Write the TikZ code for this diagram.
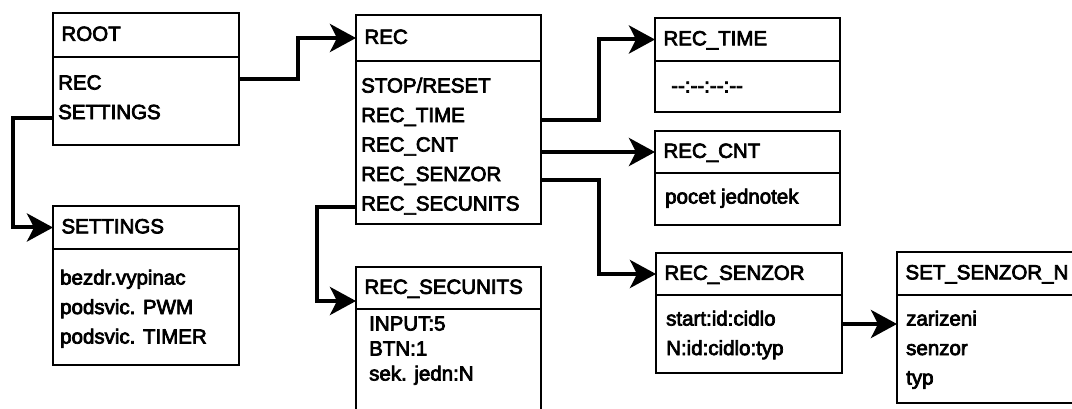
\documentclass[tikz,border=0pt]{standalone}
\usepackage{fontspec}
\setmainfont{Liberation Sans}
\newfontfamily\boxfont{Liberation Sans}[FakeBold=3.5]
\usetikzlibrary{arrows.meta,calc}

\tikzset{
  head/.style={draw, line width=2.7pt, anchor=north west, outer sep=0pt, inner xsep=8.5pt,
    minimum height=43pt, text width=#1, align=left, text height=14.7pt, text depth=3pt,
    font=\boxfont\fontsize{20.5}{24}\selectfont},
  body/.style={draw, line width=2.7pt, anchor=north west, outer sep=0pt, inner sep=0pt,
    minimum width=#1},
  items/.style={anchor=north west, inner sep=0pt, align=left,
    font=\boxfont\fontsize{20.5}{29.5}\selectfont},
  link/.style={line width=4pt, -{Stealth[length=26pt,width=28pt,inset=7pt]}},
}

\begin{document}
\begin{tikzpicture}[x=1pt,y=-1pt]
\clip (0,0) rectangle (1072,409);

\node[head=169pt, minimum height=44pt] (root) at (53,13) {ROOT};
\node[body=186pt, minimum height=88pt] (root body) at (root.south west) {};
\node[items] at (58,68.7) {\strut REC\\SETTINGS};

\node[head=169pt] (settings) at (53,206) {SETTINGS};
\node[body=186pt, minimum height=116pt] (settings body) at (settings.south west) {};
\node[items] at (60,263.7) {\strut bezdr.vypinac\\podsvic. PWM\\podsvic. TIMER};

\node[head=168pt, minimum height=46pt] (rec) at (356,15) {REC};
\node[body=185pt, minimum height=163pt] (rec body) at (rec.south west) {};
\node[items] at (361,71.7) {\strut STOP/RESET\\REC\_TIME\\REC\_CNT\\REC\_SENZOR\\REC\_SECUNITS};

\node[head=168pt, minimum height=42pt] (secunits) at (356,267) {REC\_SECUNITS};
\node[body=185pt, minimum height=111pt] (secunits body) at (secunits.south west) {};
\node[items, font=\boxfont\fontsize{20.5}{25}\selectfont] at (369,312.8)
  {\strut INPUT:5\\BTN:1\\sek. jedn:N};

\node[head=168pt] (rectime) at (655,18) {REC\_TIME};
\node[body=185pt, minimum height=51pt] (rectime body) at (rectime.south west) {};
\node[items] at (671,71.7) {\strut -\kern0pt-:-\kern0pt-:-\kern0pt-:-\kern0pt-};

\node[head=168pt, minimum height=42pt] (reccnt) at (655,131) {REC\_CNT};
\node[body=185pt, minimum height=52pt] (reccnt body) at (reccnt.south west) {};
\node[items] at (665,182.7) {\strut pocet jednotek};

\node[head=169pt, minimum height=42pt] (recsenzor) at (656,253) {REC\_SENZOR};
\node[body=186pt, minimum height=78pt] (recsenzor body) at (recsenzor.south west) {};
\node[items] at (666,304.7) {\strut start:id:cidlo\\N:id:cidlo:typ};

\node[head=183pt] (setsenzor) at (897,252) {SET\_SENZOR\_N};
\node[body=200pt, minimum height=108pt] (setsenzor body) at (setsenzor.south west) {};
\node[items] at (906,304.7) {\strut zarizeni\\senzor\\typ};

\draw[link] ($(root body.north east)+(0,22)$) -- ++(59,0) |- (rec.west);
\draw[link] ($(root body.north west)+(0,61)$) -- ++(-40,0) |- (settings.west);
\draw[link] ($(rec body.north east)+(0,59)$) -- ++(58,0) |- (rectime.west);
\draw[link] (rec body.east |- reccnt.west) -- (reccnt.west);
\draw[link] ($(rec body.north east)+(0,119)$) -- ++(58,0) |- (recsenzor.west);
\draw[link] ($(rec body.north west)+(0,146)$) -- ++(-39,0) |- ($(secunits.south west)+(0,-8)$);
\draw[link] ($(recsenzor body.north east)+(0,29)$) -- ($(setsenzor body.north west)+(0,29)$);
\end{tikzpicture}
\end{document}
